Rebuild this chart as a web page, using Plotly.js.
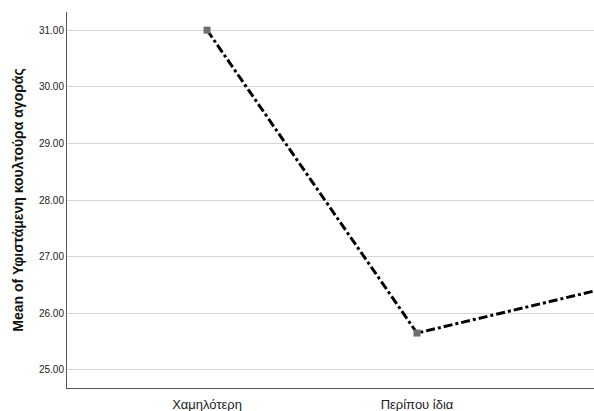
<!DOCTYPE html>
<html><head><meta charset="utf-8">
<script src="https://cdn.plot.ly/plotly-3.0.1.min.js"></script>
<style>html,body{margin:0;padding:0;background:#fff}#c{width:594px;height:411px}</style>
</head><body><div id="c"></div>
<script>
const categories = ["Χαμηλότερη", "Περίπου ίδια", "Υψηλότερη"];
const means = [31.0, 25.65, 26.53];
const yTicks = [25, 26, 27, 28, 29, 30, 31];

const trace = {
  x: [0, 1, 2], y: means, type: 'scatter', mode: 'lines+markers',
  line: {color: '#000', width: 3, dash: 'dashdot'},
  marker: {symbol: 'square', size: 7, color: '#6e6e6e'},
  cliponaxis: true, hoverinfo: 'none'
};
const layout = {
  width: 594, height: 411,
  margin: {l: 67, r: 0, t: 12, b: 23},
  paper_bgcolor: '#fff', plot_bgcolor: '#fff',
  showlegend: false,
  font: {family: 'Liberation Sans, Arial, sans-serif', color: '#222'},
  xaxis: {
    range: [-0.667, 1.843], tickvals: [0, 1, 2], ticktext: categories,
    showgrid: false, zeroline: false, showline: true, linecolor: '#555', linewidth: 1,
    ticks: '', tickfont: {size: 13, color: '#222'}, ticklabelstandoff: 4
  },
  yaxis: {
    range: [24.68, 31.32], tickvals: yTicks, ticktext: yTicks.map(v => v.toFixed(2)),
    showgrid: true, gridcolor: '#d4d4d4', gridwidth: 1, zeroline: false,
    showline: true, linecolor: '#555', linewidth: 1, ticks: '',
    tickfont: {size: 10, color: '#222'},
    title: {text: 'Mean of Υφιστάμενη κουλτούρα αγοράς', font: {size: 14, color: '#111', weight: 'bold'}, standoff: 12}
  }
};
Plotly.newPlot('c', [trace], layout, {staticPlot: true});
</script></body></html>
